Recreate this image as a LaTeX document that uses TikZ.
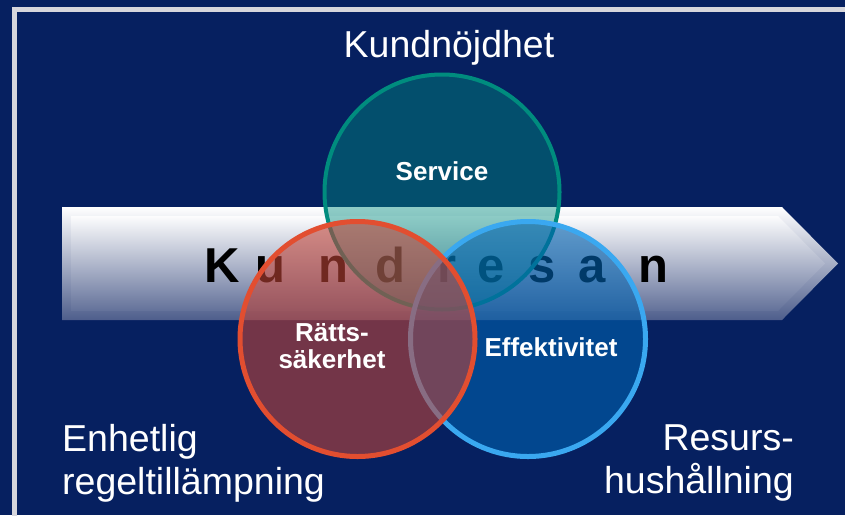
\documentclass[tikz,border=0pt]{standalone}
\usepackage{fontspec}
\setmainfont{Liberation Sans}
\usepackage{xcolor}
\usetikzlibrary{positioning}

\definecolor{navy}{RGB}{6,32,96}
\definecolor{framegray}{RGB}{214,214,220}
\definecolor{arrowmid}{RGB}{198,202,216}
\definecolor{arrowdark}{RGB}{78,94,140}
\definecolor{tealfill}{RGB}{0,141,127}
\definecolor{tealring}{RGB}{0,140,126}
\definecolor{redfill}{RGB}{192,68,56}
\definecolor{redring}{RGB}{226,78,48}
\definecolor{bluefill}{RGB}{0,97,175}
\definecolor{bluering}{RGB}{58,168,240}

\tikzset{
  ring/.style={circle, minimum size=235pt, inner sep=0pt, line width=5pt},
  journey/.style={anchor=base, inner sep=0pt, text=black, font=\fontsize{49}{49}\bfseries\selectfont},
  inlabel/.style={inner sep=0pt, text=white, font=\fontsize{26}{27}\bfseries\selectfont},
  outlabel/.style={inner sep=0pt, text=white, font=\fontsize{37.5}{43}\selectfont}
}

\begin{document}
\begin{tikzpicture}[x=1pt,y=-1pt]
            \useasboundingbox (0,0) rectangle (845,515);
            \fill[navy] (0,0) rectangle (845,515);
            \draw[line width=4.5pt, framegray] (14.3,530) -- (14.3,9.7) -- (860,9.7);

            \shade[top color=white, middle color=arrowmid, bottom color=arrowdark] (62,207) -- (782,207) -- (838,263.5) -- (782,320) -- (62,320) -- cycle;
            \shade[top color=white!95!arrowmid, middle color=arrowmid!90!white, bottom color=arrowdark!88!white] (71,216) -- (778,216) -- (825,263.5) -- (778,311) -- (71,311) -- cycle;

            \foreach \ch/\x [count=\i] in {K/222,u/270.5,n/333.5,d/390,r/447.5,e/491,s/542.5,a/592.5,n/653.5}
              \node[journey] (letter\i) at (\x,282) {\ch};

            \node[ring, line width=4pt, draw=tealring, fill=tealfill, fill opacity=.44] (service) at (442,192) {};
            \node[ring, draw=bluering, fill=bluefill, fill opacity=.6] (efficiency) at (528,339) {};
            \node[ring, draw=redring, fill=redfill, fill opacity=.59] (legal) at (357.5,339) {};

            \node[inlabel, anchor=base] (servicetext) at (442,180) {Service};
            \node[inlabel, anchor=base] (efficiencytext) at (551,356) {Effektivitet};
            \node[inlabel, align=center, anchor=north] (legaltext) at (332,323) {Rätts-\\säkerhet};

            \node[outlabel, anchor=base] (satisfaction) at (449,57) {Kundnöjdhet};
            \node[outlabel, align=left, anchor=north west] (uniform) at (62,424) {Enhetlig\\regeltillämpning};
            \node[outlabel, align=right, anchor=north east] (resources) at (794,424) {Resurs-\\hushållning};
        \end{tikzpicture}
\end{document}
